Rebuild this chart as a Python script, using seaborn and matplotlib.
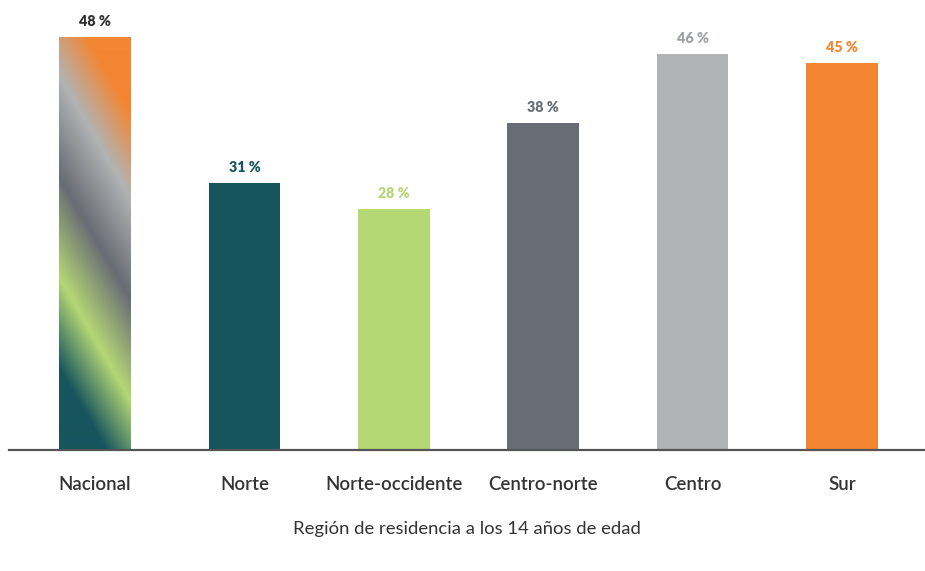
import numpy as np
import pandas as pd
import matplotlib
matplotlib.use("Agg")
import matplotlib.pyplot as plt
from matplotlib.colors import LinearSegmentedColormap
import seaborn as sns

regions = ["Nacional", "Norte", "Norte-occidente", "Centro-norte", "Centro", "Sur"]
values = [48, 31, 28, 38, 46, 45]
bar_colors = ["#17555E", "#17555E", "#B5D774", "#686C74", "#B1B3B4", "#F38632"]
label_colors = ["#2E2E2E", "#17555E", "#B5D774", "#686C74", "#9EA1A3", "#F38632"]
x_title = "Región de residencia a los 14 años de edad"

# gradient stops for the national bar (bottom-left -> top-right)
grad_stops = [(0.0, "#17555E"), (0.15, "#17555E"), (0.32, "#B5D774"),
              (0.51, "#686C74"), (0.70, "#B1B3B4"), (0.86, "#F38632"), (1.0, "#F38632")]

sns.set_theme(style="white")
plt.rcParams["font.family"] = ["Lato", "DejaVu Sans"]

df = pd.DataFrame({"region": regions, "value": values})

fig = plt.figure(figsize=(9.25, 5.71), dpi=100)
W, H = 925, 571
ax = fig.add_axes([9 / W, (H - 450) / H, (W - 9) / W, 450 / H])

sns.barplot(data=df, x="region", y="value", hue="region", palette=bar_colors,
            width=0.48, legend=False, ax=ax, saturation=1, linewidth=0)

ax.set_xlim(-0.576, 5.556)
ax.set_ylim(0, 52.3)
sns.despine(ax=ax, left=True, top=True, right=True)
ax.spines["bottom"].set_color("#555555")
ax.spines["bottom"].set_linewidth(1.6)
ax.set_yticks([])
ax.set_ylabel("")
ax.tick_params(axis="x", length=0, pad=19)
for lbl in ax.get_xticklabels():
    lbl.set_fontsize(13.4)
    lbl.set_fontweight("semibold")
    lbl.set_color("#333333")
ax.set_xlabel(x_title, fontsize=13.3, color="#333333", labelpad=20)

# value labels
for i, (v, c) in enumerate(zip(values, label_colors)):
    ax.annotate(f"{v} %", xy=(i, v), xytext=(0, 6.5), textcoords="offset points",
                ha="center", va="bottom", fontsize=10.3, fontweight="heavy", color=c)

# diagonal gradient fill on the first bar
fig.canvas.draw()
patch = ax.patches[0]
bb = patch.get_window_extent()
pw, ph = int(round(bb.width)), int(round(bb.height))
xs = np.arange(pw)[None, :]
ys = np.arange(ph)[:, None]  # 0 at top
# iso-colour lines slope down-right; gradient runs toward upper right
dirx, diry = 123.0, -72.0
norm = np.hypot(dirx, diry)
p = (dirx * xs + diry * ys) / norm
p = (p - p.min()) / (p.max() - p.min())
cmap = LinearSegmentedColormap.from_list("nat", grad_stops)
img = cmap(p)
x0, y0 = patch.get_x(), patch.get_y()
w, h = patch.get_width(), patch.get_height()
im = ax.imshow(img, extent=(x0, x0 + w, y0, y0 + h), aspect="auto",
               origin="upper", zorder=patch.get_zorder() + 0.1, interpolation="bilinear")
im.set_clip_path(patch)
ax.set_xlim(-0.576, 5.556)
ax.set_ylim(0, 52.3)

fig.savefig("out.png", dpi=100)
